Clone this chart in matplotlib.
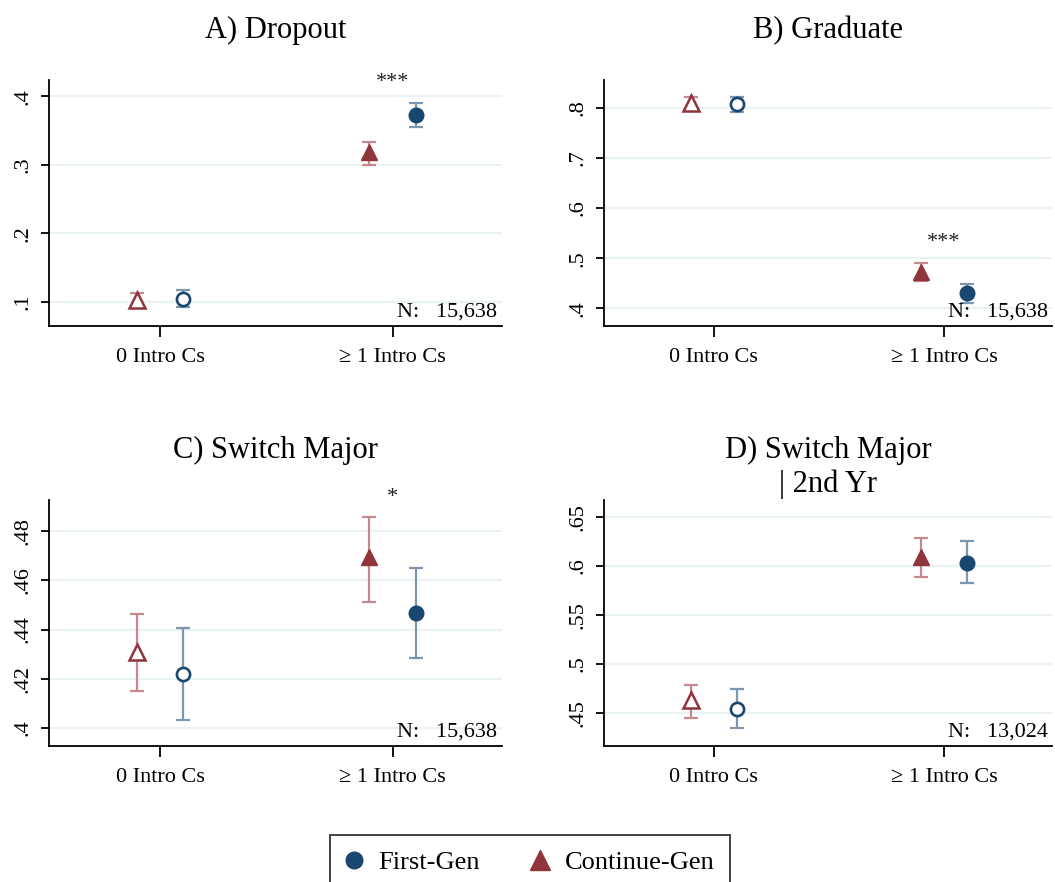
import numpy as np
import matplotlib
matplotlib.use("Agg")
from matplotlib import pyplot as plt
from matplotlib.lines import Line2D

plt.rcParams['font.family'] = ['Liberation Serif', 'DejaVu Serif']

categories = ["0 Intro Cs", "\u2265 1 Intro Cs"]

# first-gen / continuing-gen point estimates with 95% CIs (lo, hi)
dropout_first = [0.105, 0.373]
dropout_first_lo = [0.093, 0.3555]
dropout_first_hi = [0.1175, 0.390]
dropout_cont = [0.103, 0.319]
dropout_cont_lo = [0.091, 0.300]
dropout_cont_hi = [0.113, 0.333]

grad_first = [0.807, 0.430]
grad_first_lo = [0.791, 0.411]
grad_first_hi = [0.822, 0.448]
grad_cont = [0.809, 0.473]
grad_cont_lo = [0.794, 0.455]
grad_cont_hi = [0.822, 0.491]

switch_first = [0.4218, 0.4468]
switch_first_lo = [0.4031, 0.4286]
switch_first_hi = [0.4406, 0.4649]
switch_cont = [0.4309, 0.4693]
switch_cont_lo = [0.4149, 0.4513]
switch_cont_hi = [0.4463, 0.4858]

switch2_first = [0.4538, 0.603]
switch2_first_lo = [0.4347, 0.582]
switch2_first_hi = [0.4741, 0.6252]
switch2_cont = [0.463, 0.6086]
switch2_cont_lo = [0.4453, 0.5888]
switch2_cont_hi = [0.4783, 0.628]

titles = ["A) Dropout", "B) Graduate", "C) Switch Major", "D) Switch Major\n| 2nd Yr"]
sample_n = ["15,638", "15,638", "15,638", "13,024"]
stars = ["***", "***", "*", ""]
star_y = [0.420, 0.531, 0.4938, None]
yticks = [[0.1, 0.2, 0.3, 0.4],
          [0.4, 0.5, 0.6, 0.7, 0.8],
          [0.40, 0.42, 0.44, 0.46, 0.48],
          [0.45, 0.50, 0.55, 0.60, 0.65]]
ytick_labels = [[".1", ".2", ".3", ".4"],
                [".4", ".5", ".6", ".7", ".8"],
                [".4", ".42", ".44", ".46", ".48"],
                [".45", ".5", ".55", ".6", ".65"]]
ylims = [(0.065, 0.424), (0.365, 0.855), (0.3927, 0.4926), (0.4163, 0.667)]

series = [
    (dropout_first, dropout_first_lo, dropout_first_hi, dropout_cont, dropout_cont_lo, dropout_cont_hi),
    (grad_first, grad_first_lo, grad_first_hi, grad_cont, grad_cont_lo, grad_cont_hi),
    (switch_first, switch_first_lo, switch_first_hi, switch_cont, switch_cont_lo, switch_cont_hi),
    (switch2_first, switch2_first_lo, switch2_first_hi, switch2_cont, switch2_cont_lo, switch2_cont_hi),
]

navy = "#1a476f"
maroon = "#90353b"
navy_ci = "#7d97b1"
maroon_ci = "#c58a8f"
grid_col = "#eaf2f3"

W, H = 1055, 882
fig = plt.figure(figsize=(W / 100, H / 100), dpi=100)

# axes boxes in pixels: left, top, right, bottom
boxes = [(49, 80, 502, 326), (604, 80, 1052, 326),
         (49, 500, 502, 746), (604, 500, 1052, 746)]

x = np.arange(len(categories))
off = 0.1

for i, (l, t, r, b) in enumerate(boxes):
    ax = fig.add_axes([l / W, 1 - b / H, (r - l) / W, (b - t) / H])
    f, flo, fhi, c, clo, chi = series[i]
    f, flo, fhi = map(np.array, (f, flo, fhi))
    c, clo, chi = map(np.array, (c, clo, chi))

    for yv in yticks[i]:
        ax.axhline(yv, color=grid_col, lw=1.6, zorder=0)

    ax.errorbar(x - off, c, yerr=[c - clo, chi - c], fmt='none', ecolor=maroon_ci,
                elinewidth=1.6, capsize=5, capthick=1.6, zorder=2)
    ax.errorbar(x + off, f, yerr=[f - flo, fhi - f], fmt='none', ecolor=navy_ci,
                elinewidth=1.6, capsize=5, capthick=1.6, zorder=2)

    # hollow markers for 0 intro courses, filled for >= 1
    ax.plot(x[0] - off, c[0], marker='^', ms=11, mfc='white', mec=maroon, mew=1.8,
            ls='none', zorder=3)
    ax.plot(x[1] - off, c[1], marker='^', ms=12, color=maroon, ls='none', zorder=3)
    ax.plot(x[0] + off, f[0], marker='o', ms=9.5, mfc='white', mec=navy, mew=1.9,
            ls='none', zorder=3)
    ax.plot(x[1] + off, f[1], marker='o', ms=10.5, color=navy, ls='none', zorder=3)

    if stars[i]:
        ax.text(1, star_y[i], stars[i], ha='center', va='center', fontsize=16,
                color='#222222', clip_on=False)

    ax.text(0.99, 0.02, "N:   " + sample_n[i], transform=ax.transAxes,
            ha='right', va='bottom', fontsize=16, zorder=4)

    ax.set_xlim(-0.478, 1.47)
    ax.set_ylim(*ylims[i])
    ax.set_xticks(x)
    ax.set_xticklabels(categories, fontsize=16)
    ax.set_yticks(yticks[i])
    ax.set_yticklabels(ytick_labels[i], fontsize=16, rotation=90, va='center')
    ax.tick_params(axis='x', length=8, width=1.3, pad=8)
    ax.tick_params(axis='y', length=6, width=1.3, pad=6)
    for s in ('top', 'right'):
        ax.spines[s].set_visible(False)
    for s in ('left', 'bottom'):
        ax.spines[s].set_linewidth(1.3)
    if i == 3:
        ax.set_title(titles[i], fontsize=22, pad=6, linespacing=1.2)
    else:
        ax.set_title(titles[i], fontsize=22, pad=30)

handles = [Line2D([], [], marker='o', color=navy, ls='none', ms=12),
           Line2D([], [], marker='^', color=maroon, ls='none', ms=14)]
leg = fig.legend(handles, ["First-Gen", "Continue-Gen"], loc='upper center',
                 bbox_to_anchor=(530 / W, 1 - 835 / H), ncol=2, fontsize=19,
                 frameon=True, fancybox=False, edgecolor='black', handletextpad=0.62,
                 columnspacing=2.0, borderpad=0.6, handlelength=0.6, borderaxespad=0)
leg.get_frame().set_linewidth(1.3)

fig.savefig("out.png", dpi=100)
